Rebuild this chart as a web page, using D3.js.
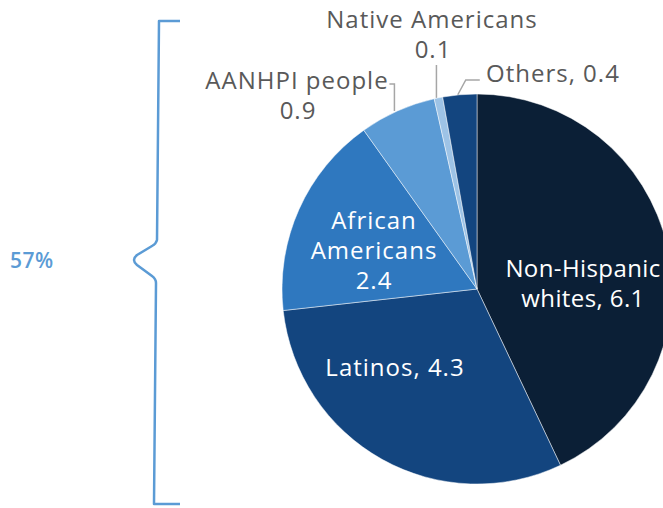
<!DOCTYPE html>
<html><head><meta charset="utf-8">
<script src="https://cdn.jsdelivr.net/npm/d3@7/dist/d3.min.js"></script>
<style>body{margin:0;background:#fff}svg{display:block}text{font-family:"Open Sans",sans-serif}</style>
</head><body>
<svg id="c" width="663" height="508"></svg>
<script>
const categories = ["Non-Hispanic whites", "Latinos", "African Americans", "AANHPI people", "Native Americans", "Others"];
const values = [6.1, 4.3, 2.4, 0.9, 0.1, 0.4];
const colors = ["#0b1f36", "#13457f", "#2f78bf", "#5b9bd5", "#9dc3e6", "#13457f"];
const bracketLabel = "57%";

const svg = d3.select("#c");
const cx = 477, cy = 289, R = 195;
const g = svg.append("g").attr("transform", `translate(${cx},${cy})`);

const pie = d3.pie().sort(null).value(d => d.v);
const data = pie(categories.map((c, i) => ({c, v: values[i], col: colors[i]})));
const arc = d3.arc().innerRadius(0).outerRadius(R);

g.selectAll("path.s").data(data).join("path")
  .attr("d", arc).attr("fill", d => d.data.col)
  .attr("stroke", "#ffffff").attr("stroke-opacity", 0.6).attr("stroke-width", 0.8);

const fs = 24, ls = 1;
function edge(d, r) {
  const a = (d.startAngle + d.endAngle) / 2;
  return [Math.sin(a) * r, -Math.cos(a) * r];
}
// Interior labels
const inner = [
  {i: 0, lines: ["Non-Hispanic", "whites, 6.1"], x: 583, y: 277, gap: 30, ls: 0.4},
  {i: 1, lines: ["Latinos, 4.3"], x: 395, y: 376, gap: 30, ls: 1},
  {i: 2, lines: ["African", "Americans", "2.4"], x: 374, y: 229, gap: 30, ls: 1}
];
inner.forEach(l => {
  l.lines.forEach((s, k) => svg.append("text").attr("text-anchor", "middle").attr("fill", "#fff")
    .attr("font-size", fs).attr("letter-spacing", l.ls)
    .attr("x", l.x).attr("y", l.y + k * l.gap).text(s));
});

// Exterior labels with leaders
const gray = "#595959", lineCol = "#a6a6a6";
function leader(pts) {
  svg.append("path").attr("d", d3.line()(pts)).attr("fill", "none")
    .attr("stroke", lineCol).attr("stroke-width", 1.5);
}
// AANHPI
{
  const p = edge(data[3], R);
  const x0 = cx + p[0] - 3, y0 = cy + p[1];
  leader([[x0, y0], [x0, 84], [x0 - 5, 84]]);
  const t = svg.append("text").attr("text-anchor", "middle").attr("fill", gray).attr("font-size", fs).attr("letter-spacing", ls);
  t.append("tspan").attr("x", 297).attr("y", 89).text("AANHPI people");
  t.append("tspan").attr("x", 298).attr("y", 119).text(values[3].toFixed(1));
}
// Native
{
  const p = edge(data[4], R);
  const x0 = cx + p[0] - 2, y0 = cy + p[1];
  leader([[x0, y0], [x0, 65]]);
  const t = svg.append("text").attr("text-anchor", "middle").attr("fill", gray).attr("font-size", fs).attr("letter-spacing", ls);
  t.append("tspan").attr("x", 432).attr("y", 28).text("Native Americans");
  t.append("tspan").attr("x", 433).attr("y", 58).text(values[4].toFixed(1));
}
// Others
{
  const p = edge(data[5], R);
  const x0 = cx + p[0] - 2, y0 = cy + p[1];
  leader([[x0, y0], [x0 + 8, 80], [x0 + 22, 80]]);
  svg.append("text").attr("x", 486).attr("y", 82).attr("fill", gray).attr("font-size", fs).attr("letter-spacing", ls)
    .text("Others, " + values[5].toFixed(1));
}

// Brace
const blue = "#5b9bd5";
svg.append("path")
  .attr("d", "M180,21 L159,21 L157,240 Q156,244 152,246 L137,255 Q131,260 137,265 L152,276 Q156,279 156,283 L154,504 L180,504")
  .attr("fill", "none").attr("stroke", blue).attr("stroke-width", 2.5).attr("stroke-linejoin", "round");
svg.append("text").attr("x", 10).attr("y", 268).attr("fill", blue).attr("font-size", 21)
  .attr("font-weight", 600).attr("letter-spacing", 0.5).text(bracketLabel);
</script>
</body></html>
